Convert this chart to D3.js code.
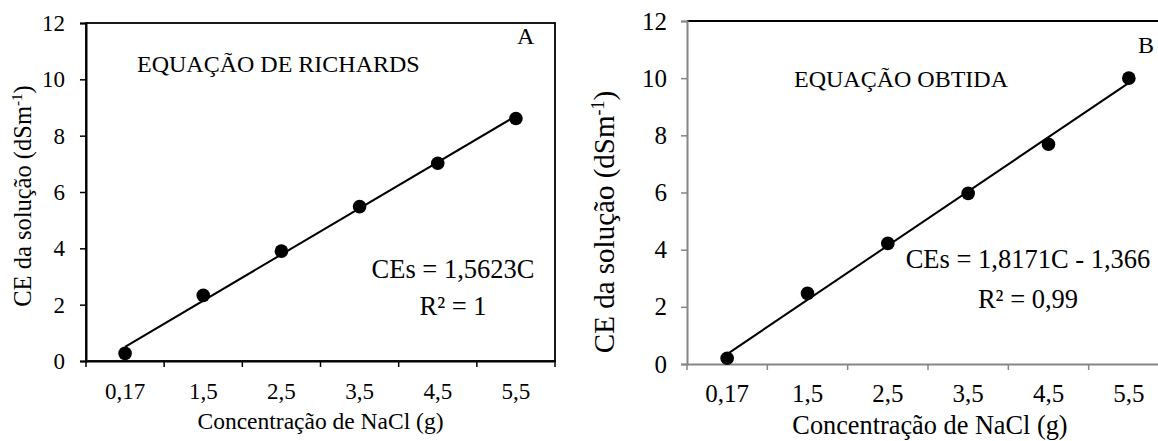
<!DOCTYPE html>
<html>
<head>
<meta charset="utf-8">
<script src="https://cdn.jsdelivr.net/npm/d3@7"></script>
<style>
    body { margin: 0; background: #fff; }
</style>
</head>
<body>
<div id="chart"></div>
<script>
// categorias do eixo x (NaCl, g)
const categories = ['0,17', '1,5', '2,5', '3,5', '4,5', '5,5'];
// CE da solucao medida (dS m-1)
const richardsValues = [0.27, 2.33, 3.90, 5.48, 7.02, 8.61];
const obtidaValues = [0.20, 2.47, 4.22, 5.97, 7.69, 10.0];
const yTicks = [0, 2, 4, 6, 8, 10, 12];

const FONT = 'Liberation Serif';

const svg = d3.select('#chart').append('svg')
    .attr('width', 1158)
    .attr('height', 441)
    .attr('font-family', FONT);

//regressao linear sobre o indice da categoria (como a linha de tendencia do Excel)
function fitLine(values) {
    const xs = values.map((v, i) => i + 1);
    const mx = d3.mean(xs), my = d3.mean(values);
    const b = d3.sum(xs, (x, i) => (x - mx) * (values[i] - my)) / d3.sum(xs, x => (x - mx) * (x - mx));
    const a = my - b * mx;
    return xs.map(x => a + b * x);
}

function addText(g, txt, x, y, size, anchor) {
    return g.append('text')
        .attr('x', x).attr('y', y)
        .attr('font-family', FONT)
        .attr('font-size', size)
        .attr('text-anchor', anchor || 'start')
        .attr('fill', '#000')
        .text(txt);
}

function drawPanel(p) {
    const x = d3.scaleBand().domain(categories).range([p.left, p.right]).padding(0);
    const y = d3.scaleLinear().domain([0, 12]).range([p.bottom, p.top]);
    const g = svg.append('g');

    // moldura
    if (p.box) {
        g.append('rect')
            .attr('x', p.left).attr('y', p.top)
            .attr('width', p.right - p.left).attr('height', p.bottom - p.top)
            .attr('fill', 'none').attr('stroke', '#000').attr('stroke-width', 1.8);
    } else {
        g.append('line')
            .attr('x1', p.left).attr('x2', p.right)
            .attr('y1', p.top).attr('y2', p.top)
            .attr('stroke', '#000').attr('stroke-width', 1.8);
    }

    // eixo y
    const yAxis = g.append('g')
        .attr('transform', `translate(${p.left},0)`)
        .call(d3.axisLeft(y).tickValues(yTicks).tickSize(6).tickPadding(p.yPad));
    yAxis.attr('font-family', FONT).attr('font-size', p.tickFont);
    yAxis.select('.domain').attr('stroke', p.axisColor).attr('stroke-width', 2);
    yAxis.selectAll('.tick line').attr('stroke', p.axisColor).attr('stroke-width', 1.5);
    yAxis.selectAll('.tick text').attr('font-family', FONT).attr('fill', '#000');

    // eixo x: marcas nos limites das categorias
    const xAxis = g.append('g')
        .attr('transform', `translate(0,${p.bottom})`)
        .call(d3.axisBottom(x).tickSize(0).tickPadding(p.xPad));
    xAxis.attr('font-family', FONT).attr('font-size', p.tickFont);
    xAxis.select('.domain').attr('stroke', p.axisColor).attr('stroke-width', 2);
    xAxis.selectAll('.tick text').attr('font-family', FONT).attr('fill', '#000');
    const edges = categories.map(c => x(c)).concat([x.range()[1]]);
    xAxis.selectAll('line.edge').data(edges).enter().append('line')
        .attr('class', 'edge')
        .attr('x1', d => d).attr('x2', d => d)
        .attr('y1', 0).attr('y2', 6)
        .attr('stroke', p.axisColor).attr('stroke-width', 1.5);

    // linha de tendencia
    const fit = fitLine(p.values);
    const last = categories.length - 1;
    const ends = [[categories[0], fit[0]], [categories[last], fit[last]]];
    g.append('path')
        .datum(ends)
        .attr('d', d3.line()
            .x(d => x(d[0]) + x.bandwidth() / 2)
            .y(d => y(d[1])))
        .attr('fill', 'none').attr('stroke', '#000').attr('stroke-width', 2);

    // pontos
    g.selectAll('circle').data(p.values).enter().append('circle')
        .attr('cx', (d, i) => x(categories[i]) + x.bandwidth() / 2)
        .attr('cy', d => y(d))
        .attr('r', 6.8)
        .attr('fill', '#000');

    // titulos dos eixos
    addText(g, 'Concentração de NaCl (g)', (p.left + p.right) / 2 + p.xTitleShift, p.xTitleY, p.xTitleFont, 'middle');

    const yt = g.append('text')
        .attr('transform', `translate(${p.yTitleX},${p.yTitleY}) rotate(-90)`)
        .attr('text-anchor', 'middle')
        .attr('font-family', FONT)
        .attr('font-size', p.yTitleFont);
    yt.append('tspan').text('CE da solução (dSm');
    yt.append('tspan').attr('dy', -p.yTitleFont * 0.35).attr('font-size', p.yTitleFont * 0.62).text('-1');
    yt.append('tspan').attr('dy', p.yTitleFont * 0.35).text(')');

    // anotacoes
    addText(g, p.name, p.nameX, p.nameY, p.nameFont);
    addText(g, p.letter, p.letterX, p.letterY, 24);
    addText(g, p.equation, p.eqX, p.eqY, 26.5, 'middle');
    addText(g, p.r2, p.eqX, p.eqY + p.eqGap, 26.5, 'middle');
}

drawPanel({
    values: richardsValues, box: true, axisColor: '#000',
    left: 86, right: 555, top: 23, bottom: 361,
    tickFont: 23, yPad: 15, xPad: 22,
    xTitleY: 429, xTitleFont: 23.5, xTitleShift: 0,
    yTitleX: 31, yTitleY: 196, yTitleFont: 24.5,
    name: 'EQUAÇÃO DE RICHARDS', nameX: 137, nameY: 72, nameFont: 24,
    letter: 'A', letterX: 517, letterY: 44,
    equation: 'CEs = 1,5623C', r2: 'R² = 1', eqX: 453, eqY: 278, eqGap: 37
});

drawPanel({
    values: obtidaValues, box: false, axisColor: '#868686',
    left: 687, right: 1169, top: 21, bottom: 364,
    tickFont: 25, yPad: 14, xPad: 20,
    xTitleY: 434, xTitleFont: 26.3, xTitleShift: 2,
    yTitleX: 614, yTitleY: 222, yTitleFont: 29,
    name: 'EQUAÇÃO OBTIDA', nameX: 794, nameY: 87, nameFont: 24,
    letter: 'B', letterX: 1138, letterY: 53,
    equation: 'CEs = 1,8171C - 1,366', r2: 'R² = 0,99', eqX: 1028, eqY: 268, eqGap: 40
});
</script>
</body>
</html>
